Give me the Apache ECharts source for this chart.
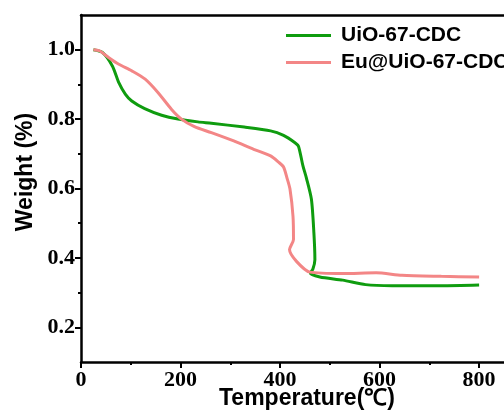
<!DOCTYPE html>
<html><head><meta charset="utf-8">
<script src="https://cdn.jsdelivr.net/npm/echarts@6/dist/echarts.min.js"></script>
<style>html,body{margin:0;padding:0;background:#fff;overflow:hidden}#c{width:504px;height:412px}</style>
</head><body><div id="c"></div>
<script>
const seriesNames = ['UiO-67-CDC', 'Eu@UiO-67-CDC'];
const uioTemp = [25, 43, 63, 76, 89, 102, 128, 162, 195, 235, 262, 328, 381, 407, 430, 437, 446, 453, 463, 468, 470, 466, 461, 480, 526, 572, 625, 724, 800];
const uioWeight = [1.0, 0.992, 0.953, 0.905, 0.872, 0.852, 0.83, 0.811, 0.80, 0.792, 0.788, 0.777, 0.766, 0.753, 0.732, 0.722, 0.665, 0.63, 0.569, 0.472, 0.395, 0.368, 0.356, 0.345, 0.336, 0.323, 0.320, 0.320, 0.322];
const euTemp = [25, 37, 56, 76, 102, 129, 155, 182, 202, 228, 262, 307, 347, 381, 397, 407, 414, 420, 426, 427, 419, 433, 460, 526, 593, 645, 724, 800];
const euWeight = [1.0, 0.997, 0.977, 0.958, 0.939, 0.915, 0.876, 0.828, 0.80, 0.778, 0.761, 0.737, 0.713, 0.694, 0.676, 0.662, 0.63, 0.598, 0.52, 0.453, 0.424, 0.39, 0.359, 0.355, 0.357, 0.35, 0.347, 0.345];
const xMajor = [0, 200, 400, 600, 800];
const xMinor = [100, 300, 500, 700];
const yMajor = [0.2, 0.4, 0.6, 0.8, 1.0];
const yMinor = [0.3, 0.5, 0.7, 0.9];

const zip = (a, b) => a.map((v, i) => [v, b[i]]);
const lineStyle = {color: '#000', width: 2.5};
const tickLbl = {fontFamily: 'Liberation Serif', fontWeight: 'bold', fontSize: 22, color: '#000'};
const chart = echarts.init(document.getElementById('c'));
chart.setOption({
  animation: false,
  grid: {left: 81, right: -5, top: 15, bottom: 50},
  xAxis: [
    {type: 'value', position: 'bottom', min: 0, max: 850, splitLine: {show: false},
     axisLine: {lineStyle}, axisTick: {customValues: xMajor, length: 6, lineStyle: {width: 2, color: '#000'}},
     axisLabel: {customValues: xMajor, margin: 7, ...tickLbl}},
    {type: 'value', position: 'bottom', min: 0, max: 850, splitLine: {show: false},
     axisLine: {show: false}, axisTick: {customValues: xMinor, length: 3, lineStyle: {width: 2, color: '#000'}},
     axisLabel: {show: false}},
    {type: 'value', position: 'top', min: 0, max: 850, splitLine: {show: false},
     axisLine: {lineStyle}, axisTick: {show: false}, axisLabel: {show: false}}
  ],
  yAxis: [
    {type: 'value', position: 'left', min: 0.1, max: 1.1, splitLine: {show: false},
     axisLine: {lineStyle}, axisTick: {customValues: yMajor, length: 6, lineStyle: {width: 2, color: '#000'}},
     axisLabel: {customValues: yMajor, margin: 6, formatter: v => v.toFixed(1), ...tickLbl}},
    {type: 'value', position: 'left', min: 0.1, max: 1.1, splitLine: {show: false},
     axisLine: {show: false}, axisTick: {customValues: yMinor, length: 3, lineStyle: {width: 2, color: '#000'}},
     axisLabel: {show: false}}
  ],
  legend: {
    orient: 'vertical', left: 286, top: 25, padding: 0, itemWidth: 45, itemHeight: 3, itemGap: 6,
    icon: 'rect',
    textStyle: {fontFamily: 'Liberation Sans', fontWeight: 'bold', fontSize: 21, color: '#000', lineHeight: 20, padding: [0, 0, 0, 5]},
    data: seriesNames
  },
  series: [
    {name: seriesNames[0], type: 'line', data: zip(uioTemp, uioWeight), symbol: 'none', smooth: 0.25,
     lineStyle: {color: '#0f9c0f', width: 3}, itemStyle: {color: '#0f9c0f'}},
    {name: seriesNames[1], type: 'line', data: zip(euTemp, euWeight), symbol: 'none', smooth: 0.25,
     lineStyle: {color: '#f38686', width: 3}, itemStyle: {color: '#f38686'}}
  ],
  graphic: [
    {type: 'text', x: 26, y: 172, rotation: Math.PI / 2,
     style: {text: 'Weight (%)', fontFamily: 'Liberation Sans', fontWeight: 'bold', fontSize: 23, fill: '#000', align: 'center', verticalAlign: 'middle'}},
    {type: 'text', x: 307, y: 399,
     style: {text: 'Temperature(℃)', fontFamily: 'Liberation Sans', fontWeight: 'bold', fontSize: 23, fill: '#000', align: 'center', verticalAlign: 'middle'}}
  ]
});
</script></body></html>
